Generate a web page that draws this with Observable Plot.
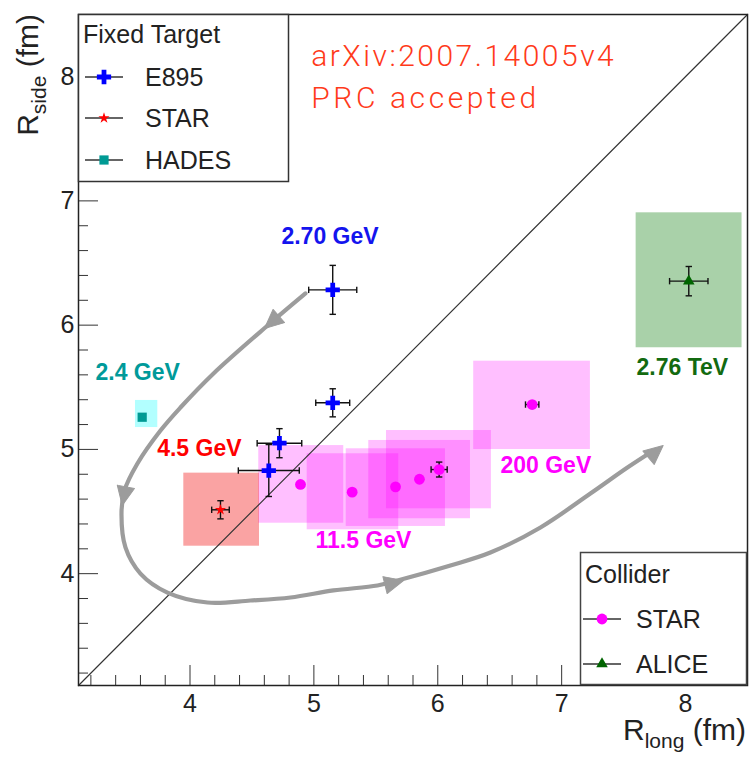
<!DOCTYPE html>
<html><head><meta charset="utf-8">
<script src="https://cdn.jsdelivr.net/npm/d3@7"></script>
<script src="https://cdn.jsdelivr.net/npm/@observablehq/plot@0.6"></script>
<style>
html,body{margin:0;padding:0;background:#fff;}
#chart{width:749px;height:757px;}
</style></head><body><div id="chart"></div>
<script>
// ---------- axes ----------
const xDomain = [3.1, 8.5];
const yDomain = [3.1, 8.5];
const majorTicks = [4, 5, 6, 7, 8];
const minorTicks = [3.2,3.4,3.6,3.8,4.2,4.4,4.6,4.8,5.2,5.4,5.6,5.8,6.2,6.4,6.6,6.8,7.2,7.4,7.6,7.8,8.2,8.4];

// ---------- Fixed target: E895 ----------
const e895X    = [5.152, 5.152, 4.722, 4.636];
const e895Y    = [6.284, 5.375, 5.050, 4.830];
const e895Xerr = [0.194, 0.137, 0.180, 0.246];
const e895Yerr = [0.197, 0.113, 0.117, 0.209];

// ---------- Fixed target: STAR 4.5 GeV ----------
const starFtX = [4.246], starFtY = [4.514];
const starFtXerr = [0.071], starFtYerr = [0.073];
const starFtSysX1 = [3.950], starFtSysX2 = [4.561];
const starFtSysY1 = [4.221], starFtSysY2 = [4.809];

// ---------- Fixed target: HADES 2.4 GeV ----------
const hadesX = [3.614], hadesY = [5.259];
const hadesSysX1 = [3.560], hadesSysX2 = [3.740];
const hadesSysY1 = [5.176], hadesSysY2 = [5.394];

// ---------- Collider: STAR BES ----------
const starColX    = [4.892, 5.309, 5.659, 5.852, 6.011, 6.762];
const starColY    = [4.718, 4.656, 4.699, 4.760, 4.838, 5.361];
const starColXerr = [0, 0, 0, 0, 0.065, 0.054];
const starColYerr = [0, 0, 0, 0, 0.060, 0];
const starColSysX1 = [4.555, 4.946, 5.261, 5.443, 5.586, 6.290];
const starColSysX2 = [5.241, 5.685, 6.062, 6.264, 6.433, 7.232];
const starColSysY1 = [4.406, 4.353, 4.380, 4.442, 4.522, 4.999];
const starColSysY2 = [5.031, 4.965, 5.005, 5.072, 5.152, 5.710];

// ---------- Collider: ALICE 2.76 TeV ----------
const aliceX = [8.026], aliceY = [6.354];
const aliceXerr = [0.155], aliceYerr = [0.118];
const aliceSysX1 = [7.601], aliceSysX2 = [8.456];
const aliceSysY1 = [5.818], aliceSysY2 = [6.904];

// ---------- annotation: gray trend arrow ----------
const arrowPathX = [4.932,4.617,4.190,3.923,3.762,3.576,3.471,3.447,3.479,3.600,3.818,4.141,4.488,4.811,5.158,5.513,5.675,6.102,6.425,6.829,7.232,7.531,7.717];
const arrowPathY = [6.255,5.989,5.611,5.337,5.152,4.887,4.669,4.484,4.211,4.001,3.848,3.768,3.784,3.808,3.865,3.905,3.945,4.066,4.170,4.372,4.645,4.854,4.975];
const arrowHeadX = [4.601, 3.453, 5.723, 7.819];
const arrowHeadY = [5.973, 4.549, 3.945, 5.031];
const arrowHeadAngle = [229, 191, 76, 50];

// ---------- labels ----------
const labelText  = ["2.70 GeV", "2.4 GeV", "4.5 GeV", "11.5 GeV", "200 GeV", "2.76 TeV"];
const labelX     = [4.738, 3.237, 3.735, 5.013, 6.506, 7.604];
const labelY     = [6.713, 5.615, 5.007, 4.267, 4.868, 5.662];
const labelColor = ["#1414ee", "#009a9a", "#ff0000", "#ff00ff", "#ff00ff", "#136a10"];
const noteText = ["arXiv:2007.14005v4", "PRC accepted"];
const noteX = [4.978, 4.978];
const noteY = [8.163, 7.822];

// legend entries
const legendFixed = ["E895", "STAR", "HADES"];
const legendCollider = ["STAR", "ALICE"];

// ---------- build ----------
const rows = (xs, ys, xe, ye) => xs.map((x, i) => ({x, y: ys[i], xe: xe ? xe[i] : 0, ye: ye ? ye[i] : 0}));
const boxes = (x1, x2, y1, y2) => x1.map((v, i) => ({x1: v, x2: x2[i], y1: y1[i], y2: y2[i]}));

const capV = {draw(ctx, size) { const r = Math.sqrt(size / Math.PI); ctx.moveTo(0, -r); ctx.lineTo(0, r); }};
const capH = {draw(ctx, size) { const r = Math.sqrt(size / Math.PI); ctx.moveTo(-r, 0); ctx.lineTo(r, 0); }};
const headShape = {draw(ctx, l) { const w = l * 0.46; ctx.moveTo(0, -l); ctx.lineTo(-w, 0); ctx.lineTo(w, 0); ctx.closePath(); }};

function errMarks(data) {
  const hx = data.filter(d => d.xe > 0), hy = data.filter(d => d.ye > 0);
  const s = {stroke: "#111", strokeWidth: 1.4};
  return [
    Plot.link(hx, {x1: d => d.x - d.xe, x2: d => d.x + d.xe, y1: "y", y2: "y", ...s}),
    Plot.link(hy, {x1: "x", x2: "x", y1: d => d.y - d.ye, y2: d => d.y + d.ye, ...s}),
    Plot.dot(hx, {x: d => d.x - d.xe, y: "y", symbol: capV, r: 3.2, fill: "none", ...s}),
    Plot.dot(hx, {x: d => d.x + d.xe, y: "y", symbol: capV, r: 3.2, fill: "none", ...s}),
    Plot.dot(hy, {x: "x", y: d => d.y - d.ye, symbol: capH, r: 3.2, fill: "none", ...s}),
    Plot.dot(hy, {x: "x", y: d => d.y + d.ye, symbol: capH, r: 3.2, fill: "none", ...s})
  ];
}

const e895 = rows(e895X, e895Y, e895Xerr, e895Yerr);
const starFt = rows(starFtX, starFtY, starFtXerr, starFtYerr);
const hades = rows(hadesX, hadesY);
const starCol = rows(starColX, starColY, starColXerr, starColYerr);
const alice = rows(aliceX, aliceY, aliceXerr, aliceYerr);
const arrowPath = arrowPathX.map((x, i) => ({x, y: arrowPathY[i]}));
const heads = arrowHeadX.map((x, i) => ({x, y: arrowHeadY[i], a: arrowHeadAngle[i]}));
const labels = labelText.map((t, i) => ({t, x: labelX[i], y: labelY[i], c: labelColor[i]}));
const notes = noteText.map((t, i) => ({t, x: noteX[i], y: noteY[i]}));
const diag = xDomain.map(v => ({x: v, y: v}));

const chart = Plot.plot({
  width: 749, height: 757,
  marginLeft: 78, marginRight: 2, marginTop: 14, marginBottom: 72,
  style: {fontFamily: "'Liberation Sans', Arial, sans-serif", fontSize: "25px", color: "#222", background: "#fff"},
  x: {domain: xDomain, label: null},
  y: {domain: yDomain, label: null},
  marks: [
    // systematic boxes
    Plot.rect(boxes(starColSysX1, starColSysX2, starColSysY1, starColSysY2), {x1: "x1", x2: "x2", y1: "y1", y2: "y2", fill: "#ff00ff", fillOpacity: 0.25}),
    Plot.rect(boxes(starFtSysX1, starFtSysX2, starFtSysY1, starFtSysY2), {x1: "x1", x2: "x2", y1: "y1", y2: "y2", fill: "#f00000", fillOpacity: 0.36}),
    Plot.rect(boxes(hadesSysX1, hadesSysX2, hadesSysY1, hadesSysY2), {x1: "x1", x2: "x2", y1: "y1", y2: "y2", fill: "#00ffff", fillOpacity: 0.3}),
    Plot.rect(boxes(aliceSysX1, aliceSysX2, aliceSysY1, aliceSysY2), {x1: "x1", x2: "x2", y1: "y1", y2: "y2", fill: "#0a7a0a", fillOpacity: 0.35}),
    // y = x
    Plot.line(diag, {x: "x", y: "y", stroke: "#333", strokeWidth: 1.2}),
    // trend arrow
    Plot.line(arrowPath, {x: "x", y: "y", curve: "catmull-rom", stroke: "#9c9c9c", strokeWidth: 4.2}),
    Plot.vector(heads, {x: "x", y: "y", rotate: "a", length: 19, anchor: "end", shape: headShape, fill: "#9c9c9c", stroke: "#9c9c9c", strokeWidth: 1}),
    // error bars
    ...errMarks(e895), ...errMarks(starFt), ...errMarks(starCol), ...errMarks(alice),
    // markers
    Plot.dot(starCol, {x: "x", y: "y", symbol: "circle", r: 5.4, fill: "#ff00ff"}),
    Plot.dot(e895, {x: "x", y: "y", symbol: "cross", r: 6, fill: "#0000ff"}),
    Plot.dot(starFt, {x: "x", y: "y", symbol: "star", r: 3.5, fill: "#ff0000"}),
    Plot.dot(hades, {x: "x", y: "y", symbol: "square", r: 5.2, fill: "#009a94"}),
    Plot.dot(alice, {x: "x", y: "y", symbol: "triangle", r: 4.3, fill: "#006400"}),
    // labels
    Plot.text(labels, {x: "x", y: "y", text: "t", fill: "c", textAnchor: "start", fontWeight: "bold", fontSize: 23}),
    Plot.text(notes, {x: "x", y: "y", text: "t", fill: "#ff3a1a", textAnchor: "start", fontSize: 30, fontWeight: 300, fontFamily: "Roboto, 'Liberation Sans', sans-serif"}),
    // axes
    Plot.axisX({ticks: minorTicks, tickSize: -10, text: null, stroke: "#333"}),
    Plot.axisX({ticks: majorTicks, tickSize: -20, tickPadding: 29, tickFormat: d => String(d), stroke: "#333", fill: "#222", fontSize: 25}),
    Plot.axisY({ticks: minorTicks, tickSize: -10, text: null, stroke: "#333"}),
    Plot.axisY({ticks: majorTicks, tickSize: -20, tickPadding: 24, tickFormat: d => String(d), stroke: "#333", fill: "#222", fontSize: 25}),
    Plot.frame({stroke: "#222", strokeWidth: 1.5})
  ]
});

document.getElementById("chart").appendChild(chart);

// post-processing: letter spacing for note text, axis titles and legends
const svg = d3.select(chart);
svg.selectAll("text").filter(function() { return this.textContent === noteText[0]; }).style("letter-spacing", "2.5px");
svg.selectAll("text").filter(function() { return this.textContent === noteText[1]; }).style("letter-spacing", "3.6px");

const FONT = "'Liberation Sans', Arial, sans-serif";
// y-axis title
const yt = svg.append("text").attr("transform", "translate(38,14) rotate(-90)")
  .attr("text-anchor", "end").attr("font-family", FONT).attr("font-size", 30).attr("fill", "#222");
yt.append("tspan").text("R");
yt.append("tspan").attr("font-size", 21).attr("dy", 8).text("side");
yt.append("tspan").attr("dy", -8).text(" (fm)");
// x-axis title
const xt = svg.append("text").attr("x", 746).attr("y", 740)
  .attr("text-anchor", "end").attr("font-family", FONT).attr("font-size", 30).attr("fill", "#222");
xt.append("tspan").text("R");
xt.append("tspan").attr("font-size", 21).attr("dy", 8).text("long");
xt.append("tspan").attr("dy", -8).text(" (fm)");

function sym(type, r) { return d3.symbol(type, Math.PI * r * r)(); }
function legendEntry(g, x0, y, tx, label, symType, r, color) {
  g.append("line").attr("x1", x0).attr("x2", x0 + 38).attr("y1", y).attr("y2", y).attr("stroke", "#333").attr("stroke-width", 1.4);
  g.append("path").attr("d", sym(symType, r)).attr("transform", `translate(${x0 + 19},${y})`).attr("fill", color);
  g.append("text").attr("x", tx).attr("y", y + 9).attr("text-anchor", "start").attr("font-family", FONT).attr("font-size", 25).attr("fill", "#222").text(label);
}
// Fixed target legend
const lg1 = svg.append("g");
lg1.append("rect").attr("x", 78.5).attr("y", 14.5).attr("width", 210).attr("height", 167).attr("fill", "#fff").attr("stroke", "#333").attr("stroke-width", 1.5);
lg1.append("text").attr("x", 83).attr("y", 43).attr("text-anchor", "start").attr("font-family", FONT).attr("font-size", 25).attr("fill", "#222").text("Fixed Target");
legendEntry(lg1, 85, 77, 145, legendFixed[0], d3.symbolCross, 6, "#0000ff");
legendEntry(lg1, 85, 118, 145, legendFixed[1], d3.symbolStar, 3.5, "#ff0000");
legendEntry(lg1, 85, 160, 145, legendFixed[2], d3.symbolSquare, 5.2, "#009a94");
// Collider legend
const lg2 = svg.append("g");
lg2.append("rect").attr("x", 580.5).attr("y", 552.5).attr("width", 166).attr("height", 132).attr("fill", "#fff").attr("stroke", "#444").attr("stroke-width", 1.5);
lg2.append("text").attr("x", 585).attr("y", 583).attr("text-anchor", "start").attr("font-family", FONT).attr("font-size", 25).attr("fill", "#222").text("Collider");
legendEntry(lg2, 583, 619, 636, legendCollider[0], d3.symbolCircle, 5.4, "#ff00ff");
legendEntry(lg2, 583, 664, 636, legendCollider[1], d3.symbolTriangle, 4.3, "#006400");
</script>
</body></html>
